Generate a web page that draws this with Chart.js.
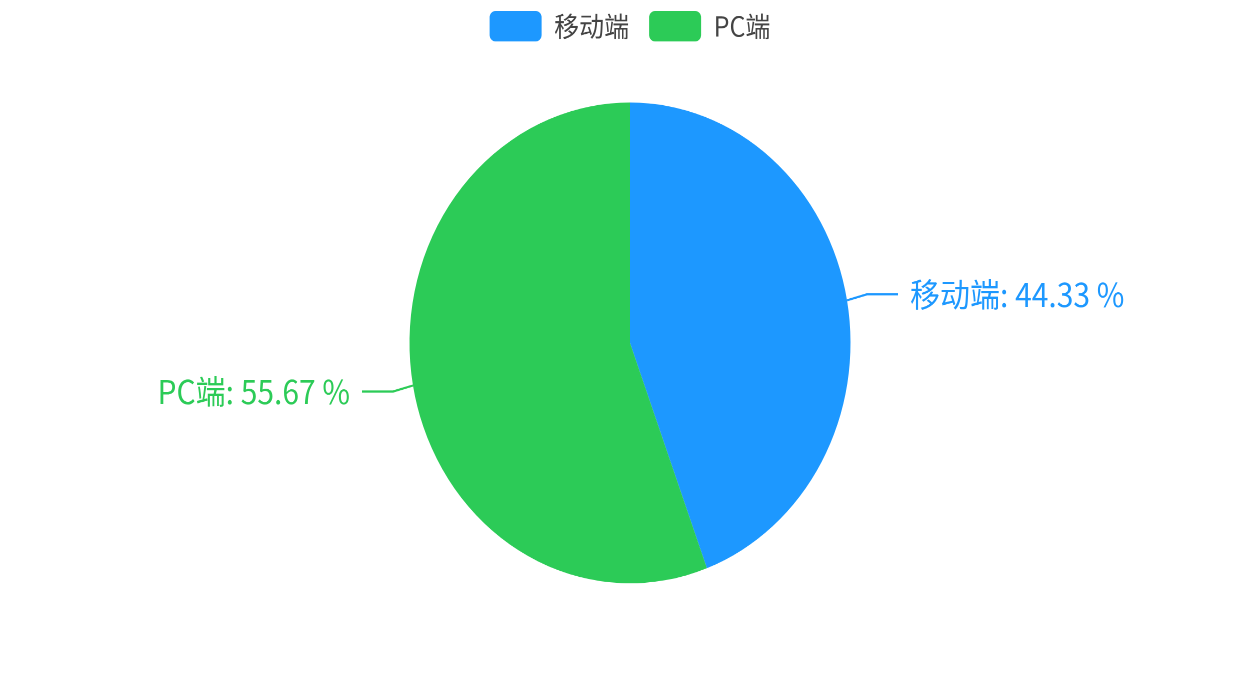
<!DOCTYPE html>
<html>
<head>
<meta charset="utf-8">
<script src="https://cdn.jsdelivr.net/npm/chart.js@4.4.1/dist/chart.umd.min.js"></script>
<style>
html,body{margin:0;padding:0;background:#fff;overflow:hidden;}
#wrap{width:1260px;height:631px;transform-origin:0 0;transform:scale(1,1.0903);}
</style>
</head>
<body>
<div id="wrap"><canvas id="c"></canvas></div>
<script>
const categories = ['移动端', 'PC端'];
const values = [44.33, 55.67];
const colors = ['#1d98ff', '#2ccb57'];

const FONT = "'Noto Sans CJK SC', 'Noto Sans', sans-serif";

const legendMargin = {
  id: 'legendMargin',
  beforeInit(chart) {
    const orig = chart.legend.fit;
    chart.legend.fit = function () {
      orig.bind(chart.legend)();
      this.height = 104;
    };
  }
};

const labelPlugin = {
  id: 'pieLabels',
  afterDatasetsDraw(chart) {
    const ctx = chart.ctx;
    const meta = chart.getDatasetMeta(0);
    const total = values.reduce((a, b) => a + b, 0);
    meta.data.forEach((arc, i) => {
      const p = arc.getProps(['x', 'y', 'startAngle', 'endAngle', 'outerRadius'], true);
      const mid = (p.startAngle + p.endAngle) / 2;
      const cos = Math.cos(mid), sin = Math.sin(mid);
      const x0 = p.x + cos * p.outerRadius, y0 = p.y + sin * p.outerRadius;
      const dir = cos >= 0 ? 1 : -1;
      const vdir = sin >= 0 ? 1 : -1;
      const x1 = x0 + dir * 20, y1 = y0 + vdir * 5.5;
      const x2 = x1 + dir * 31;
      ctx.save();
      ctx.strokeStyle = colors[i];
      ctx.lineWidth = 2;
      ctx.beginPath();
      ctx.moveTo(x0, y0); ctx.lineTo(x1, y1); ctx.lineTo(x2, y1);
      ctx.stroke();
      ctx.fillStyle = colors[i];
      ctx.font = '30px ' + FONT;
      ctx.textBaseline = 'middle';
      ctx.textAlign = dir > 0 ? 'left' : 'right';
      const pct = (values[i] / total * 100).toFixed(2);
      ctx.fillText(categories[i] + ': ' + pct + ' %', x2 + dir * 12, y1);
      ctx.restore();
    });
  }
};

new Chart(document.getElementById('c'), {
  type: 'pie',
  data: {
    labels: categories,
    datasets: [{
      data: values,
      backgroundColor: colors,
      borderWidth: 0,
      hoverOffset: 0
    }]
  },
  options: {
    responsive: true,
    maintainAspectRatio: false,
    animation: false,
    devicePixelRatio: 2,
    layout: { padding: { top: -10, bottom: 96 } },
    plugins: {
      tooltip: { enabled: false },
      legend: {
        position: 'top',
        labels: {
          boxWidth: 52,
          boxHeight: 28,
          useBorderRadius: true,
          borderRadius: 6,
          padding: 20,
          color: '#444',
          font: { size: 25, family: FONT }
        }
      }
    }
  },
  plugins: [legendMargin, labelPlugin]
});
</script>
</body>
</html>
